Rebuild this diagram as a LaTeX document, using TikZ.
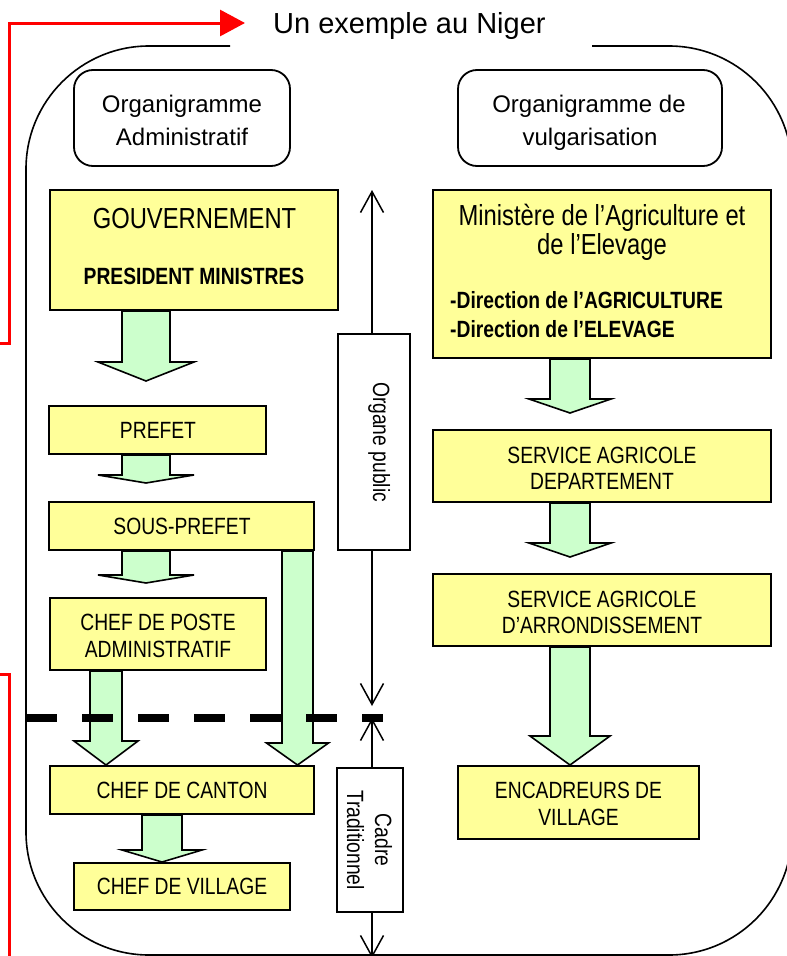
\documentclass[tikz,border=0pt]{standalone}
\usepackage{fontspec}
\setmainfont{Liberation Sans}
\newfontfamily\narrowfont[FakeStretch=0.82]{Liberation Sans}
\usetikzlibrary{arrows.meta,calc}
\definecolor{boxyellow}{HTML}{FFFF99}
\definecolor{arrgreen}{HTML}{CCFFCC}
\definecolor{redline}{HTML}{FF0000}
\newcommand\blockarrow[7]{%
  \coordinate (bax) at (#3,0);
  \draw[garrow] ($(bax |- #1.south)+(-#4,0)$)
    -- ($(bax |- #2.north)+(-#4,-#6-#7)$)
    -- ($(bax |- #2.north)+(-#5,-#6-#7)$)
    -- ($(bax |- #2.north)+(0,-#7)$)
    -- ($(bax |- #2.north)+(#5,-#6-#7)$)
    -- ($(bax |- #2.north)+(#4,-#6-#7)$)
    -- ($(bax |- #1.south)+(#4,0)$) -- cycle;
}
\begin{document}
\begin{tikzpicture}[x=1pt,y=-1pt,
  ybox/.style={draw=black, line width=2pt, fill=boxyellow, inner sep=0pt},
  rbox/.style={draw=black, line width=1.8pt, rounded corners=19pt, fill=white, inner sep=0pt},
  wbox/.style={draw=black, line width=1.8pt, fill=white, inner sep=0pt},
  garrow/.style={draw=black, line width=1.6pt, fill=arrgreen, line join=miter},
  lbl/.style={inner sep=0pt, anchor=base, font=\narrowfont\fontsize{23.5}{26}\selectfont},
  blbl/.style={inner sep=0pt, anchor=base west, font=\narrowfont\bfseries\fontsize{23.5}{26}\selectfont},
  biglbl/.style={inner sep=0pt, anchor=base, font=\narrowfont\fontsize{29}{30}\selectfont},
  ttl/.style={inner sep=0pt, anchor=base, font=\fontsize{24}{26}\selectfont},
  vline/.style={line width=1.5pt, -{Straight Barb[length=21pt,width=23pt]}},
  redpath/.style={draw=redline, line width=3pt, line join=miter}
]
\useasboundingbox (0,0) rectangle (787,956);
\clip (0,0) rectangle (787,956);

% frame
\draw[line width=1.6pt, rounded corners=123pt] (230,46) -- (26,46) -- (26,955) -- (792,955) -- (792,46) -- (592,46);

% title and red lines
\node[inner sep=0pt, anchor=base west, font=\fontsize{29}{30}\selectfont] (title) at (273,33) {Un exemple au Niger};
\coordinate (redtip) at (245,23);
\coordinate (redin1) at (-5,343);
\coordinate (redin2) at (-5,674);
\coordinate (redout2) at (9,962);
\draw[redpath, -{Triangle[length=25pt,width=26pt]}] (redin1) -- (9,343) -- (9,23) -- (redtip);
\draw[redpath] (redin2) -- (9,674) -- (redout2);

% header boxes
\node[rbox, minimum width=216pt, minimum height=96pt] (orgadm) at (182,118) {};
\node[rbox, minimum width=264pt, minimum height=96pt] (orgvul) at (590,118) {};
\node[ttl] (orgadm1) at (182,112) {Organigramme};
\node[ttl] (orgadm2) at (182,145) {Administratif};
\node[ttl] (orgvul1) at (589,112) {Organigramme de};
\node[ttl] (orgvul2) at (590,145) {vulgarisation};

% yellow boxes
\node[ybox, minimum width=288pt, minimum height=120pt] (gov) at (194,250) {};
\node[ybox, minimum width=217pt, minimum height=48pt] (prefet) at (157.5,430) {};
\node[ybox, minimum width=265pt, minimum height=48pt] (sousprefet) at (181.5,526) {};
\node[ybox, minimum width=216pt, minimum height=72pt] (poste) at (158,634) {};
\node[ybox, minimum width=264pt, minimum height=48pt] (canton) at (182,790) {};
\node[ybox, minimum width=216pt, minimum height=47pt] (village) at (182,886.5) {};
\node[ybox, minimum width=338pt, minimum height=168pt] (ministere) at (602,274) {};
\node[ybox, minimum width=338pt, minimum height=72pt] (servdept) at (602,466) {};
\node[ybox, minimum width=338pt, minimum height=72pt] (servarr) at (602,610) {};
\node[ybox, minimum width=241pt, minimum height=73pt] (encad) at (578.5,802.5) {};

% white side boxes
\node[wbox, minimum width=72pt, minimum height=216pt] (organe) at (374,442) {};
\node[wbox, minimum width=66pt, minimum height=144pt] (cadre) at (370,840) {};

% texts
\node[biglbl] (govt1) at (194.5,228) {GOUVERNEMENT};
\node[lbl, font=\narrowfont\bfseries\fontsize{23.5}{26}\selectfont] (govt2) at (194,284) {PRESIDENT MINISTRES};
\node[lbl] (prefett) at (158,438) {PREFET};
\node[lbl] (sousprefett) at (182,534) {SOUS-PREFET};
\node[lbl] (postet1) at (158,630) {CHEF DE POSTE};
\node[lbl] (postet2) at (158,657) {ADMINISTRATIF};
\node[lbl] (cantont) at (182,798) {CHEF DE CANTON};
\node[lbl] (villaget) at (182,894) {CHEF DE VILLAGE};
\node[biglbl] (mint1) at (602,225) {Ministère de l’Agriculture et};
\node[biglbl] (mint2) at (602,254) {de l’Elevage};
\node[blbl] (mint3) at (450,308) {-Direction de l’AGRICULTURE};
\node[blbl] (mint4) at (450,337) {-Direction de l’ELEVAGE};
\node[lbl] (deptt1) at (602,463) {SERVICE AGRICOLE};
\node[lbl] (deptt2) at (602,489) {DEPARTEMENT};
\node[lbl] (arrt1) at (602,607) {SERVICE AGRICOLE};
\node[lbl] (arrt2) at (602,633) {D’ARRONDISSEMENT};
\node[lbl] (encadt1) at (578.5,798) {ENCADREURS DE};
\node[lbl] (encadt2) at (578.5,825) {VILLAGE};
\node[lbl, rotate=-90] (organet) at (373,442) {Organe public};
\node[lbl, rotate=-90] (cadret1) at (375,840) {Cadre};
\node[lbl, rotate=-90] (cadret2) at (347,840) {Traditionnel};

% green block arrows
\blockarrow{gov}{prefet}{146}{24}{48}{19}{24}
\blockarrow{prefet}{sousprefet}{146}{24}{48}{8}{18}
\blockarrow{sousprefet}{poste}{146}{24}{48}{8}{14}
\blockarrow{poste}{canton}{106}{16}{32}{24}{0}
\blockarrow{sousprefet}{canton}{297.5}{15.5}{31}{22}{0}
\blockarrow{canton}{village}{162}{20}{40}{12}{0}
\blockarrow{ministere}{servdept}{570}{20}{41}{14}{16}
\blockarrow{servdept}{servarr}{570}{20}{41}{14}{16}
\blockarrow{servarr}{encad}{570}{20}{40}{29}{0}

% vertical range arrows
\coordinate (optop) at (372,190);
\coordinate (opbot) at (372,706);
\coordinate (cttop) at (372,718);
\coordinate (ctbot) at (372,958);
\draw[vline] (optop |- organe.north) -- (optop);
\draw[vline] (opbot |- organe.south) -- (opbot);
\draw[vline] (cttop |- cadre.north) -- (cttop);
\draw[vline] (ctbot |- cadre.south) -- (ctbot);

% dashed separation line
\coordinate (dl1) at (26,718);
\coordinate (dl2) at (383,718);
\draw[line width=8pt, dash pattern=on 31pt off 25pt] (dl1) -- (dl2);
\end{tikzpicture}
\end{document}
